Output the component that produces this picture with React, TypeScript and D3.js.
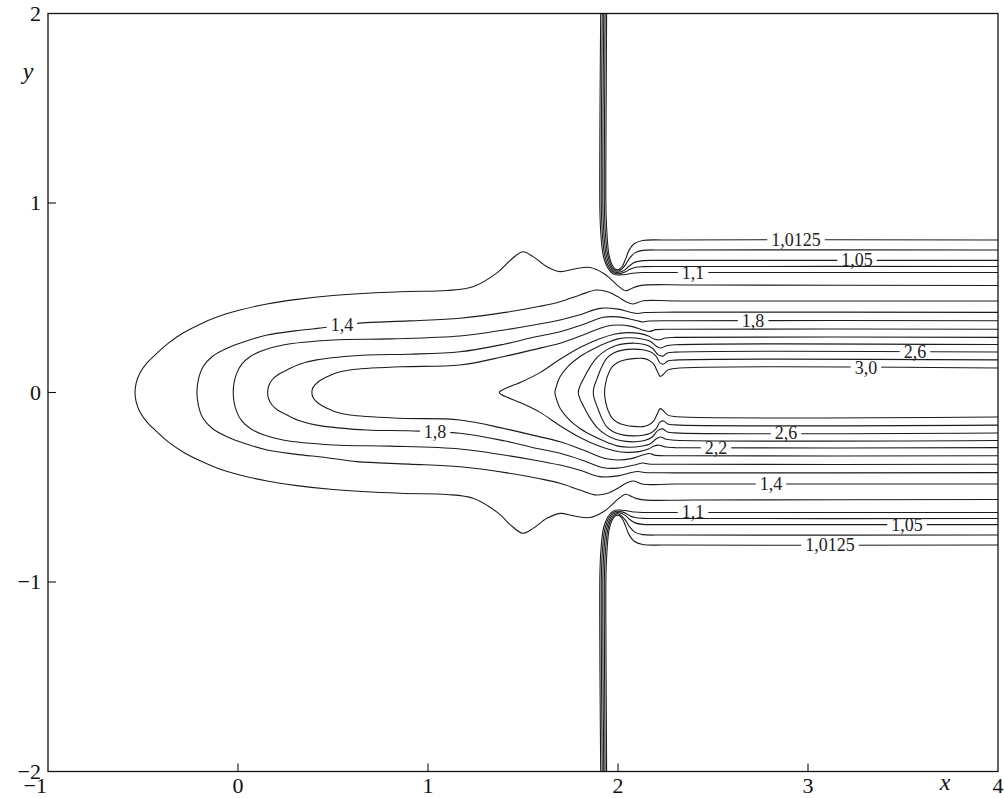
import { useEffect, useRef } from 'react'
import * as d3 from 'd3'

// upper halves of the contour lines, (x, y) in plot units; the lower halves are their mirror image in y = 0
// levels that run out through the top edge
const c10125=[[4,0.805],[2.25,0.805],[2.13,0.802],[2.085,0.785],[2.058,0.75],[2.04,0.705],[2.022,0.665],[2.003,0.648],[1.985,0.652],[1.966,0.68],[1.952,0.73],[1.943,0.82],[1.937,0.95],[1.936,1.2],[1.938,1.6],[1.94,2]]
const c1025=[[4,0.752],[2.25,0.752],[2.13,0.75],[2.09,0.738],[2.062,0.71],[2.04,0.675],[2.02,0.652],[2.002,0.641],[1.982,0.645],[1.961,0.675],[1.945,0.73],[1.935,0.82],[1.929,0.95],[1.928,1.2],[1.93,1.6],[1.932,2]]
const c105=[[4,0.697],[2.25,0.697],[2.13,0.696],[2.09,0.688],[2.062,0.67],[2.04,0.65],[2.02,0.638],[2,0.634],[1.979,0.638],[1.956,0.67],[1.938,0.725],[1.927,0.82],[1.921,0.95],[1.92,1.2],[1.922,1.6],[1.925,2]]
const c1075=[[4,0.665],[2.25,0.665],[2.13,0.664],[2.09,0.66],[2.062,0.65],[2.04,0.637],[2.02,0.63],[2,0.627],[1.976,0.632],[1.95,0.665],[1.931,0.72],[1.919,0.82],[1.913,0.95],[1.912,1.2],[1.914,1.6],[1.917,2]]
const c11=[[4,0.633],[2.25,0.633],[2.13,0.633],[2.09,0.631],[2.062,0.627],[2.04,0.623],[2.02,0.621],[2,0.62],[1.973,0.626],[1.945,0.66],[1.924,0.715],[1.911,0.82],[1.905,0.95],[1.904,1.2],[1.906,1.6],[1.909,2]]
// levels that close on the left, ending on y = 0
const c12=[[4,0.565],[2.4,0.567],[2.15,0.568],[2.1,0.56],[2.074,0.55],[2.04,0.537],[2,0.563],[1.96,0.6],[1.921,0.631],[1.853,0.66],[1.77,0.652],[1.695,0.638],[1.626,0.664],[1.553,0.717],[1.5,0.743],[1.447,0.71],[1.363,0.631],[1.237,0.558],[1.1,0.538],[0.853,0.532],[0.5,0.512],[0.3,0.49],[0.153,0.467],[0.01,0.435],[-0.111,0.398],[-0.205,0.358],[-0.289,0.314],[-0.365,0.262],[-0.426,0.208],[-0.48,0.155],[-0.516,0.103],[-0.536,0.05],[-0.542,0]]
const c14=[[4,0.483],[2.3,0.483],[2.134,0.484],[2.079,0.467],[2.04,0.48],[2,0.505],[1.95,0.53],[1.888,0.541],[1.8,0.515],[1.695,0.479],[1.589,0.455],[1.416,0.424],[1.168,0.392],[0.9,0.378],[0.626,0.365],[0.468,0.344],[0.3,0.325],[0.153,0.303],[0.04,0.27],[-0.058,0.233],[-0.135,0.19],[-0.184,0.136],[-0.208,0.07],[-0.216,0]]
const c16=[[4,0.423],[2.3,0.424],[2.14,0.422],[2.105,0.417],[2.06,0.425],[2,0.44],[1.905,0.444],[1.8,0.41],[1.695,0.383],[1.55,0.355],[1.4,0.33],[1.168,0.298],[0.8,0.283],[0.5,0.277],[0.237,0.251],[0.13,0.222],[0.063,0.189],[0.02,0.15],[-0.007,0.101],[-0.021,0.05],[-0.025,0]]
const c18=[[4,0.379],[2.3,0.379],[2.16,0.377],[2.132,0.372],[2.08,0.384],[2,0.399],[1.923,0.397],[1.82,0.36],[1.695,0.321],[1.55,0.29],[1.4,0.255],[1.168,0.215],[0.9,0.202],[0.678,0.198],[0.414,0.172],[0.32,0.148],[0.258,0.119],[0.21,0.094],[0.179,0.066],[0.161,0.033],[0.156,0]]
const c20=[[4,0.334],[2.3,0.334],[2.2,0.332],[2.165,0.322],[2.13,0.33],[2.07,0.349],[2,0.356],[1.94,0.35],[1.82,0.305],[1.695,0.26],[1.55,0.225],[1.4,0.19],[1.168,0.145],[0.853,0.136],[0.589,0.119],[0.515,0.103],[0.468,0.083],[0.43,0.062],[0.405,0.04],[0.392,0.02],[0.389,0]]
const c22=[[4,0.291],[2.3,0.291],[2.25,0.288],[2.215,0.278],[2.19,0.282],[2.16,0.298],[2.11,0.312],[2.05,0.316],[1.98,0.307],[1.9,0.282],[1.8,0.237],[1.695,0.175],[1.59,0.105],[1.5,0.06],[1.42,0.027],[1.388,0.012],[1.375,0]]
const c24=[[4,0.253],[2.3,0.252],[2.255,0.247],[2.225,0.235],[2.2,0.245],[2.17,0.27],[2.12,0.284],[2.06,0.289],[2,0.283],[1.95,0.266],[1.87,0.23],[1.8,0.19],[1.74,0.14],[1.695,0.083],[1.678,0.04],[1.668,0]]
const c26=[[4,0.214],[2.3,0.213],[2.26,0.208],[2.235,0.192],[2.21,0.2],[2.18,0.235],[2.14,0.253],[2.09,0.26],[2.04,0.258],[1.99,0.248],[1.94,0.225],[1.89,0.185],[1.85,0.13],[1.82,0.075],[1.8,0.035],[1.791,0]]
const c28=[[4,0.172],[2.3,0.171],[2.262,0.166],[2.24,0.15],[2.222,0.155],[2.2,0.192],[2.17,0.215],[2.13,0.226],[2.08,0.229],[2.03,0.225],[1.98,0.21],[1.94,0.18],[1.91,0.125],[1.888,0.068],[1.874,0.03],[1.87,0]]
const c30=[[4,0.129],[2.3,0.127],[2.26,0.118],[2.238,0.095],[2.222,0.085],[2.207,0.112],[2.188,0.15],[2.16,0.172],[2.13,0.18],[2.08,0.179],[2.04,0.173],[2,0.16],[1.97,0.136],[1.95,0.1],[1.936,0.055],[1.929,0]]

const OPEN=[c10125,c1025,c105,c1075,c11]
const LOOPS=[c12,c14,c16,c18,c20,c22,c24,c26,c28,c30]

const LABELS=[
  {t:'1,0125',x:2.937,y:0.805},{t:'1,05',x:3.258,y:0.697},{t:'1,1',x:2.395,y:0.633},
  {t:'1,8',x:2.711,y:0.379},{t:'2,6',x:3.563,y:0.214},{t:'3,0',x:3.305,y:0.129},
  {t:'1,4',x:0.547,y:0.355},{t:'1,8',x:1.037,y:-0.209},
  {t:'2,6',x:2.884,y:-0.214},{t:'2,2',x:2.516,y:-0.291},{t:'1,4',x:2.805,y:-0.483},
  {t:'1,1',x:2.395,y:-0.633},{t:'1,05',x:3.521,y:-0.697},{t:'1,0125',x:3.116,y:-0.805},
]
const XTICKS=[-1,0,1,2,3,4]
const YTICKS=[-2,-1,0,1,2]

const FONT='Liberation Serif, DejaVu Serif, serif'
const fmt=(v:number)=>(v<0?'\u2212':'')+Math.abs(v)

export default function App() {
  const ref=useRef<SVGSVGElement>(null)
  useEffect(() => {
    if(!ref.current) return
    const svg=d3.select(ref.current)
    svg.selectAll('*').remove()
    const x=d3.scaleLinear().domain([-1,4]).range([48,998])
    const y=d3.scaleLinear().domain([-2,2]).range([771.5,13.5])
    const line=d3.line<number[]>().x(d=>x(d[0])).y(d=>y(d[1])).curve(d3.curveCatmullRom.alpha(0.5))
    const flip=(p:number[][])=>p.map(d=>[d[0],-d[1]])

    svg.append('defs').append('clipPath').attr('id','plotclip').append('rect')
      .attr('x',x(-1)).attr('y',y(2)).attr('width',x(4)-x(-1)).attr('height',y(-2)-y(2))
    const g=svg.append('g').attr('clip-path','url(#plotclip)')
    OPEN.forEach(p=>{
      g.append('path').attr('d',line(p))
      g.append('path').attr('d',line(flip(p)))
    })
    LOOPS.forEach(p=>{
      g.append('path').attr('d',line(p.concat(flip(p).reverse().slice(1))))
    })
    g.selectAll('path').attr('fill','none').attr('stroke','#1c1c1c').attr('stroke-width',1.1)

    // contour labels: only their own line is broken under them
    const lg=svg.append('g').attr('font-family',FONT).attr('font-size',18).attr('fill','#222')
    LABELS.forEach(l=>{
      const t=lg.append('text').attr('x',x(l.x)).attr('y',y(l.y)+6).attr('text-anchor','middle').text(l.t)
      const w=(t.node() as SVGTextElement).getComputedTextLength()
      lg.insert('rect','text').attr('x',x(l.x)-w/2-4).attr('y',y(l.y)-4).attr('width',w+8).attr('height',8).attr('fill','#fff')
    })

    // frame and inward ticks
    svg.append('rect').attr('x',x(-1)).attr('y',y(2)).attr('width',x(4)-x(-1)).attr('height',y(-2)-y(2))
      .attr('fill','none').attr('stroke','#111').attr('stroke-width',1.3)
    const ax=svg.append('g').attr('stroke','#111').attr('stroke-width',1.1)
    XTICKS.slice(1,-1).forEach(v=>ax.append('line').attr('x1',x(v)).attr('x2',x(v)).attr('y1',y(-2)).attr('y2',y(-2)-8))
    YTICKS.slice(1,-1).forEach(v=>ax.append('line').attr('x1',x(-1)).attr('x2',x(-1)+8).attr('y1',y(v)).attr('y2',y(v)))

    const tg=svg.append('g').attr('font-family',FONT).attr('font-size',22).attr('fill','#111')
    XTICKS.forEach(v=>tg.append('text').attr('x',v===-1?x(v)-1:x(v)).attr('y',793)
      .attr('text-anchor',v===-1?'end':'middle').text(fmt(v)))
    YTICKS.forEach(v=>tg.append('text').attr('x',41).attr('y',y(v)+7).attr('text-anchor','end').text(fmt(v)))
    tg.append('text').attr('x',945).attr('y',790).attr('text-anchor','middle').attr('font-style','italic').attr('font-size',24).text('x')
    tg.append('text').attr('x',28).attr('y',79).attr('text-anchor','middle').attr('font-style','italic').attr('font-size',24).text('y')
  },[])
  return <svg ref={ref} width={1004} height={798} style={{ position:'absolute', left:0, top:0, background:'#fff' }} />
}
